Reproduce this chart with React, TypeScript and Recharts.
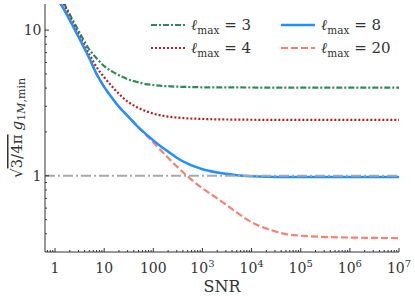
import { LineChart, Line, XAxis, YAxis, ReferenceLine, Legend } from "recharts";

// SNR sample points (x) and the curve values
const snr = [
  1.2, 1.5, 2, 3, 5, 7, 10, 15, 20, 30, 50, 70, 100, 150, 200, 300, 500, 700, 1000, 2000,
  3000, 5000, 1e4, 2e4, 5e4, 1e5, 1e6, 1e7,
];
const lmax3 = [
  null, 15.4, 12.8, 9.9, 7.35, 6.4, 5.66, 5.17, 4.9, 4.6, 4.38, 4.26, 4.2, 4.14, 4.12, 4.09,
  4.07, 4.06, 4.05, 4.045, 4.04, 4.04, 4.035, 4.03, 4.03, 4.03, 4.03, 4.03,
];
const lmax4 = [
  null, 15.2, 12.4, 9.4, 6.8, 5.57, 4.75, 4.05, 3.65, 3.23, 2.92, 2.78, 2.67, 2.59, 2.55, 2.51,
  2.48, 2.465, 2.455, 2.44, 2.435, 2.43, 2.425, 2.42, 2.42, 2.42, 2.42, 2.42,
];
const lmax8 = [
  15.8, 14.0, 11.7, 9.0, 6.4, 5.0, 4.08, 3.37, 2.98, 2.58, 2.15, 1.94, 1.75, 1.57, 1.465, 1.33,
  1.21, 1.155, 1.11, 1.055, 1.033, 1.01, 0.993, 0.984, 0.981, 0.98, 0.98, 0.98,
];
const lmax20 = [
  15.8, 14.0, 11.7, 9.0, 6.4, 5.0, 4.08, 3.37, 2.98, 2.58, 2.14, 1.92, 1.69, 1.47, 1.33, 1.16,
  0.99, 0.9, 0.82, 0.7, 0.635, 0.56, 0.48, 0.435, 0.398, 0.388, 0.377, 0.374,
];
const refLevel = 1;

const xMajorTicks = [1, 10, 100, 1e3, 1e4, 1e5, 1e6, 1e7];
const xTickLabels = ["1", "10", "100", "10^3", "10^4", "10^5", "10^6", "10^7"];
const yMajorTicks = [1, 10];
const yTickLabels = ["1", "10"];

const X_DOMAIN = [0.625, 1e7];
const Y_DOMAIN = [0.3, 15.1];

const FONT = "DejaVu Serif";
const INK = "#333";
const PLOT_LEFT = 45;
const PLOT_BOTTOM = 252;

const series = [
  { key: "l3", ell: "3", color: "#2e8b57", dash: "6 2 2 2", width: 2.2 },
  { key: "l4", ell: "4", color: "#b22222", dash: "2 2", width: 2.2 },
  { key: "l20", ell: "20", color: "#fa8072", dash: "7 3", width: 2.2 },
  { key: "l8", ell: "8", color: "#1e90ff", dash: undefined, width: 2.5 },
];
const legendOrder = ["l3", "l4", "l8", "l20"];

const data = snr.map((s, i) => ({
  snr: s,
  l3: lmax3[i],
  l4: lmax4[i],
  l8: lmax8[i],
  l20: lmax20[i],
}));

// minor ticks 2..9 per decade, kept inside the axis range
function minorTicks(lo: number, hi: number) {
  const out: number[] = [];
  for (let e = Math.floor(Math.log10(lo)); e <= Math.ceil(Math.log10(hi)); e++) {
    for (let m = 2; m <= 9; m++) {
      const v = m * Math.pow(10, e);
      if (v > lo && v < hi) out.push(v);
    }
  }
  return out;
}
const xTicks = [...xMajorTicks, ...minorTicks(X_DOMAIN[0], X_DOMAIN[1])];
const yTicks = [...yMajorTicks, ...minorTicks(0.35, Y_DOMAIN[1])];

const majorIndex = (list: number[], v: number) =>
  list.findIndex((t) => Math.abs(Math.log10(t) - Math.log10(v)) < 1e-6);

function XTick({ x, payload }: any) {
  const i = majorIndex(xMajorTicks, payload.value);
  const major = i >= 0;
  const [base, exp] = major ? xTickLabels[i].split("^") : ["", undefined];
  return (
    <g>
      <line x1={x} x2={x} y1={PLOT_BOTTOM} y2={PLOT_BOTTOM - (major ? 4 : 2)} stroke={INK} />
      {major && (
        <text x={x} y={272.5} textAnchor="middle" fontFamily={FONT} fontSize={14} fill={INK}>
          {base}
          {exp && (
            <tspan dy={-6} fontSize={10}>
              {exp}
            </tspan>
          )}
        </text>
      )}
    </g>
  );
}

function YTick({ y, payload }: any) {
  const i = majorIndex(yMajorTicks, payload.value);
  const major = i >= 0;
  return (
    <g>
      <line x1={PLOT_LEFT} x2={PLOT_LEFT + (major ? 4 : 2)} y1={y} y2={y} stroke={INK} />
      {major && (
        <text x={41.5} y={y + 5} textAnchor="end" fontFamily={FONT} fontSize={14} fill={INK}>
          {yTickLabels[i]}
        </text>
      )}
    </g>
  );
}

function YLabel() {
  return (
    <g transform="translate(22,128) rotate(-90)">
      <text x={0} y={0} textAnchor="middle" fontFamily={FONT} fontSize={15} fill={INK}>
        <tspan>√</tspan>
        <tspan style={{ textDecoration: "overline" }}>3/4π</tspan>
        <tspan dx={4} fontStyle="italic">
          g
        </tspan>
        <tspan fontSize={11} dy={3}>
          1
        </tspan>
        <tspan fontSize={11} fontStyle="italic">
          M
        </tspan>
        <tspan fontSize={11}>,min</tspan>
      </text>
    </g>
  );
}

function XLabel() {
  return (
    <text x={222} y={292} textAnchor="middle" fontFamily={FONT} fontSize={16} fill={INK}>
      SNR
    </text>
  );
}

function LegendBox() {
  const items = legendOrder.map((k) => series.find((s) => s.key === k)!);
  return (
    <svg width={270} height={55}>
      {items.map((s, i) => {
        const col = Math.floor(i / 2);
        const row = i % 2;
        const x0 = col === 0 ? 11 : 141;
        const y = row === 0 ? 17 : 40;
        return (
          <g key={s.key}>
            <line
              x1={x0}
              x2={x0 + 34}
              y1={y}
              y2={y}
              stroke={s.color}
              strokeWidth={s.width}
              strokeDasharray={s.dash}
            />
            <text x={x0 + 40} y={y + 5} fontFamily={FONT} fontSize={15} fill={INK}>
              <tspan fontStyle="italic">ℓ</tspan>
              <tspan fontSize={10.5} dy={4}>
                max
              </tspan>
              <tspan dy={-4}>{" = " + s.ell}</tspan>
            </text>
          </g>
        );
      })}
    </svg>
  );
}

export default function App() {
  return (
    <div style={{ position: "absolute", left: 0, top: 0 }}>
      <LineChart width={415} height={296} data={data} margin={{ top: 4, right: 16, bottom: 0, left: 0 }}>
        <XAxis
          dataKey="snr"
          type="number"
          scale="log"
          domain={X_DOMAIN}
          allowDataOverflow
          ticks={xTicks}
          interval={0}
          height={44}
          tickLine={false}
          tick={<XTick />}
          axisLine={{ stroke: INK }}
          label={<XLabel />}
        />
        <XAxis
          xAxisId="top"
          orientation="top"
          dataKey="snr"
          type="number"
          scale="log"
          domain={X_DOMAIN}
          allowDataOverflow
          height={0}
          tick={false}
          tickLine={false}
          axisLine={{ stroke: INK }}
        />
        <YAxis
          type="number"
          scale="log"
          domain={Y_DOMAIN}
          allowDataOverflow
          ticks={yTicks}
          interval={0}
          width={45}
          tickLine={false}
          tick={<YTick />}
          axisLine={{ stroke: INK }}
          label={<YLabel />}
        />
        <YAxis
          yAxisId="right"
          orientation="right"
          type="number"
          scale="log"
          domain={Y_DOMAIN}
          allowDataOverflow
          width={0}
          tick={false}
          tickLine={false}
          axisLine={{ stroke: INK }}
        />
        {series.map((s) => (
          <Line
            key={s.key}
            dataKey={s.key}
            type="monotone"
            stroke={s.color}
            strokeWidth={s.width}
            strokeDasharray={s.dash}
            dot={false}
            activeDot={false}
            isAnimationActive={false}
          />
        ))}
        <ReferenceLine y={refLevel} stroke="#a9a9a9" strokeWidth={2} strokeDasharray="10 3 2 3" />
        <Legend
          layout="horizontal"
          verticalAlign="middle"
          align="center"
          content={<LegendBox />}
          wrapperStyle={{ left: 140, top: 8, width: 270, height: 55 }}
        />
      </LineChart>
    </div>
  );
}
